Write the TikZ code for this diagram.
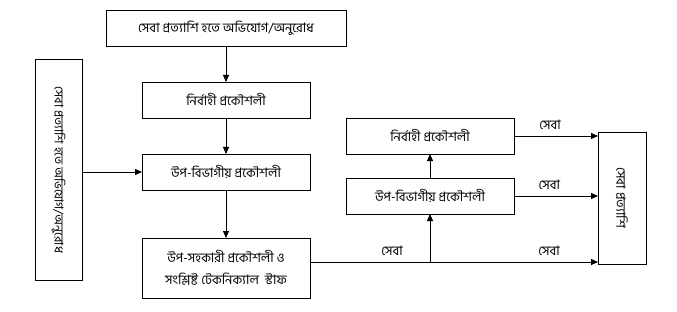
\documentclass[tikz,border=0pt]{standalone}
\usepackage{fontspec}
\newfontfamily\bnfont[Script=Bengali]{Hind Siliguri}
\usetikzlibrary{arrows.meta,positioning}

\begin{document}
\begin{tikzpicture}[x=1pt,y=1pt,font=\bnfont\fontsize{13}{22}\selectfont,
  >={Triangle[length=7pt,width=6pt]},node distance=36pt,
  box/.style={draw,line width=0.8pt,inner sep=2pt,outer sep=0pt,
    align=center,minimum width=168pt,minimum height=36pt},
  arr/.style={->,line width=0.8pt},
  lbl/.style={above=6pt,inner sep=0pt}]
  \useasboundingbox (0,0) rectangle (677,311);
  \node[box,minimum width=240pt] (req) at (226,283) {সেবা প্রত্যাশি হতে অভিযোগ/অনুরোধ};
  \node[box,below=of req] (ee) {নির্বাহী প্রকৌশলী};
  \node[box,below=of ee] (sde) {উপ-বিভাগীয় প্রকৌশলী};
  \node[box,minimum height=60pt,below=48pt of sde] (sae) {উপ-সহকারী প্রকৌশলী ও\\সংশ্লিষ্ট টেকনিক্যাল\ \ স্টাফ};
  \node[box,rotate=-90,minimum width=221pt,minimum height=47pt,
    font=\bnfont\fontsize{12.3}{15}\selectfont] (cust) at (58.5,141)
    {সেবা প্রত্যাশি হতে অভিযোগ/অনুরোধ};
  \node[box] (sde2) at (430,115) {উপ-বিভাগীয় প্রকৌশলী};
  \node[box,above=24pt of sde2] (ee2) {নির্বাহী প্রকৌশলী};
  \node[box,rotate=-90,minimum width=132pt,minimum height=48pt] (client) at (622,113)
    {সেবা প্রত্যাশি};
  \draw[arr] (req) -- (ee); \draw[arr] (ee) -- (sde);
  \draw[arr] (sde) -- (sae); \draw[arr] (sde2) -- (ee2);
  \draw[arr] (cust.north |- sde.west) -- (sde.west);
  \coordinate (out) at ([yshift=6pt]sae.east);
  \coordinate (tap) at (sde2.south |- out);
  \draw[arr] (tap) -- (sde2.south);
  \draw[arr] (out) -- node[lbl,pos=.285] {সেবা} node[lbl,pos=.83] {সেবা} (out -| client.south);
  \draw[arr] (ee2.east) -- node[lbl,pos=.43] {সেবা} (ee2.east -| client.south);
  \draw[arr] (sde2.east) -- node[lbl,pos=.42] {সেবা} (sde2.east -| client.south);
\end{tikzpicture}
\end{document}
